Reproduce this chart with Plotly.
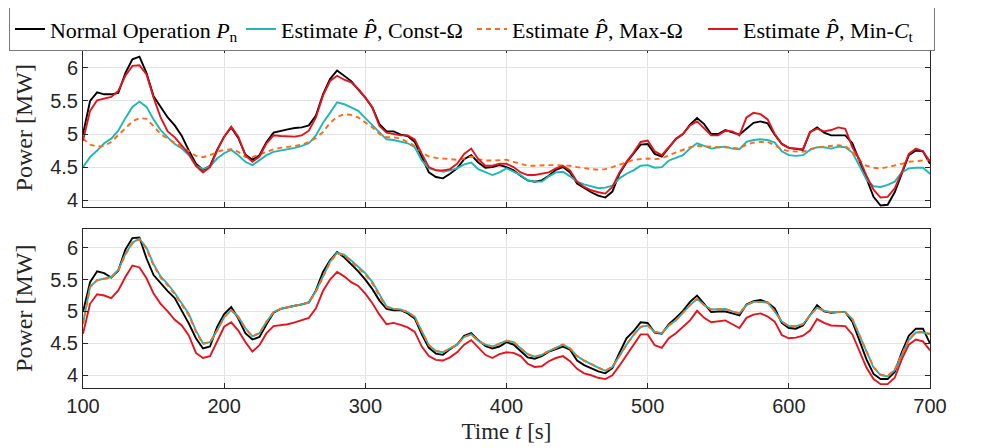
import plotly.graph_objects as go
from plotly.subplots import make_subplots

# sample times [s], every 5 s
time_s = list(range(100, 701, 5))

# top panel: power [MW]
top_normal = [5.00, 5.50, 5.63, 5.60, 5.60, 5.62, 5.92, 6.13, 6.17, 5.92, 5.57, 5.41, 5.25,
              5.13, 4.97, 4.75, 4.55, 4.46, 4.52, 4.76, 4.96, 5.10, 4.94, 4.69, 4.61, 4.68,
              4.88, 5.02, 5.05, 5.07, 5.09, 5.10, 5.13, 5.28, 5.60, 5.83, 5.96, 5.88, 5.80,
              5.67, 5.55, 5.40, 5.15, 5.04, 5.04, 4.99, 4.97, 4.88, 4.65, 4.42, 4.35, 4.33,
              4.40, 4.48, 4.62, 4.68, 4.57, 4.49, 4.50, 4.53, 4.50, 4.45, 4.37, 4.30, 4.28,
              4.30, 4.37, 4.46, 4.50, 4.42, 4.25, 4.18, 4.12, 4.07, 4.04, 4.13, 4.40, 4.57,
              4.70, 4.84, 4.85, 4.70, 4.66, 4.80, 4.93, 5.00, 5.14, 5.24, 5.15, 5.00, 5.00,
              5.06, 5.03, 4.99, 5.08, 5.17, 5.19, 5.16, 4.99, 4.85, 4.79, 4.78, 4.76, 5.03,
              5.10, 5.02, 4.98, 4.98, 4.98, 4.86, 4.60, 4.33, 4.05, 3.92, 3.93, 4.12, 4.40,
              4.68, 4.75, 4.74, 4.55]
top_const = [4.50, 4.65, 4.75, 4.86, 4.93, 5.05, 5.24, 5.41, 5.49, 5.41, 5.22, 5.06, 4.95,
             4.85, 4.78, 4.68, 4.52, 4.47, 4.51, 4.63, 4.71, 4.76, 4.68, 4.58, 4.53, 4.61,
             4.68, 4.73, 4.75, 4.76, 4.79, 4.82, 4.86, 4.98, 5.17, 5.32, 5.48, 5.45, 5.40,
             5.35, 5.24, 5.13, 5.02, 4.92, 4.91, 4.89, 4.86, 4.80, 4.60, 4.48, 4.45, 4.43,
             4.45, 4.48, 4.54, 4.57, 4.47, 4.42, 4.38, 4.42, 4.48, 4.43, 4.38, 4.30, 4.28,
             4.28, 4.36, 4.42, 4.43, 4.36, 4.28, 4.24, 4.21, 4.18, 4.19, 4.22, 4.33, 4.40,
             4.45, 4.52, 4.53, 4.49, 4.50, 4.60, 4.64, 4.68, 4.78, 4.86, 4.82, 4.78, 4.80,
             4.81, 4.78, 4.77, 4.88, 4.91, 4.92, 4.91, 4.87, 4.74, 4.68, 4.67, 4.68, 4.76,
             4.80, 4.80, 4.78, 4.81, 4.80, 4.72, 4.52, 4.31, 4.21, 4.20, 4.23, 4.28, 4.42,
             4.48, 4.49, 4.49, 4.40]
top_max = [4.93, 4.84, 4.81, 4.82, 4.88, 4.98, 5.08, 5.19, 5.24, 5.23, 5.12, 5.00, 4.93,
           4.87, 4.80, 4.74, 4.67, 4.65, 4.68, 4.73, 4.76, 4.77, 4.73, 4.65, 4.65, 4.69,
           4.74, 4.77, 4.79, 4.80, 4.82, 4.84, 4.88, 4.94, 5.03, 5.17, 5.26, 5.30, 5.29,
           5.25, 5.18, 5.10, 5.00, 4.95, 4.95, 4.93, 4.88, 4.82, 4.72, 4.66, 4.64, 4.63,
           4.62, 4.61, 4.63, 4.66, 4.62, 4.60, 4.60, 4.61, 4.61, 4.58, 4.55, 4.52, 4.52,
           4.53, 4.53, 4.53, 4.53, 4.52, 4.50, 4.48, 4.47, 4.46, 4.47, 4.50, 4.54, 4.58,
           4.61, 4.62, 4.63, 4.62, 4.63, 4.68, 4.72, 4.76, 4.80, 4.82, 4.81, 4.80, 4.80,
           4.80, 4.79, 4.78, 4.84, 4.87, 4.88, 4.88, 4.83, 4.77, 4.74, 4.73, 4.73, 4.77,
           4.80, 4.81, 4.82, 4.83, 4.82, 4.73, 4.60, 4.52, 4.49, 4.48, 4.50, 4.52, 4.55,
           4.58, 4.59, 4.60, 4.61]
top_minct = [4.90, 5.35, 5.51, 5.53, 5.56, 5.65, 5.88, 6.03, 6.04, 5.90, 5.55, 5.25, 5.04,
             4.95, 4.83, 4.70, 4.52, 4.42, 4.50, 4.75, 4.96, 5.11, 4.96, 4.68, 4.58, 4.66,
             4.86, 4.98, 4.97, 4.96, 4.96, 4.98, 5.05, 5.25, 5.58, 5.80, 5.88, 5.82, 5.78,
             5.68, 5.55, 5.40, 5.12, 5.02, 5.00, 4.98, 4.98, 4.92, 4.70, 4.50, 4.45, 4.45,
             4.47, 4.55, 4.70, 4.78, 4.62, 4.52, 4.52, 4.55, 4.55, 4.50, 4.42, 4.38, 4.38,
             4.40, 4.42, 4.48, 4.52, 4.45, 4.28, 4.20, 4.15, 4.12, 4.10, 4.20, 4.42, 4.58,
             4.72, 4.88, 4.90, 4.74, 4.68, 4.80, 4.92, 5.00, 5.13, 5.19, 5.08, 4.98, 4.98,
             5.05, 5.04, 4.98, 5.25, 5.32, 5.30, 5.22, 5.00, 4.85, 4.79, 4.78, 4.77, 5.03,
             5.08, 5.04, 5.06, 5.10, 5.08, 4.80, 4.62, 4.37, 4.16, 4.04, 4.05, 4.18, 4.42,
             4.70, 4.78, 4.74, 4.58]

# bottom panel: power [MW]
bot_normal = [4.99, 5.46, 5.63, 5.60, 5.53, 5.64, 5.97, 6.15, 6.16, 5.83, 5.57, 5.44, 5.32,
              5.21, 5.01, 4.81, 4.58, 4.42, 4.45, 4.76, 4.96, 5.07, 4.89, 4.66, 4.56, 4.60,
              4.80, 4.98, 5.04, 5.07, 5.09, 5.11, 5.14, 5.33, 5.62, 5.80, 5.93, 5.85, 5.74,
              5.63, 5.50, 5.35, 5.17, 5.04, 5.02, 5.02, 4.97, 4.89, 4.64, 4.43, 4.34, 4.32,
              4.41, 4.48, 4.62, 4.66, 4.55, 4.46, 4.42, 4.45, 4.52, 4.48, 4.38, 4.28, 4.26,
              4.30, 4.37, 4.41, 4.45, 4.40, 4.23, 4.16, 4.11, 4.06, 4.03, 4.11, 4.35, 4.58,
              4.69, 4.83, 4.82, 4.67, 4.65, 4.80, 4.90, 5.01, 5.15, 5.25, 5.12, 4.99, 5.00,
              5.00, 4.97, 4.94, 5.11, 5.16, 5.18, 5.14, 5.05, 4.82, 4.74, 4.73, 4.78, 4.95,
              5.10, 5.00, 4.98, 4.99, 4.99, 4.84, 4.55, 4.25, 4.02, 3.94, 3.94, 4.05, 4.36,
              4.62, 4.73, 4.73, 4.50]
bot_const = [4.81, 5.39, 5.49, 5.52, 5.54, 5.65, 5.90, 6.08, 6.14, 6.00, 5.74, 5.55, 5.43,
             5.29, 5.12, 4.96, 4.70, 4.50, 4.52, 4.70, 4.91, 5.02, 4.92, 4.74, 4.61, 4.66,
             4.84, 4.99, 5.04, 5.07, 5.09, 5.11, 5.14, 5.32, 5.55, 5.78, 5.92, 5.89, 5.80,
             5.70, 5.60, 5.46, 5.26, 5.08, 5.04, 5.03, 4.99, 4.92, 4.69, 4.47, 4.38, 4.36,
             4.42, 4.48, 4.60, 4.64, 4.54, 4.48, 4.45, 4.49, 4.54, 4.52, 4.42, 4.33, 4.29,
             4.32, 4.38, 4.43, 4.48, 4.42, 4.30, 4.23, 4.17, 4.12, 4.07, 4.13, 4.30, 4.48,
             4.63, 4.76, 4.78, 4.68, 4.66, 4.78, 4.86, 4.98, 5.10, 5.20, 5.10, 5.03, 5.04,
             5.04, 5.00, 4.97, 5.10, 5.15, 5.15, 5.14, 5.00, 4.84, 4.77, 4.77, 4.80, 4.94,
             5.06, 5.01, 4.99, 4.99, 4.99, 4.88, 4.62, 4.35, 4.12, 4.00, 3.98, 4.08, 4.32,
             4.55, 4.67, 4.67, 4.64]
bot_max = [4.80, 5.38, 5.49, 5.51, 5.53, 5.64, 5.89, 6.07, 6.13, 5.98, 5.72, 5.53, 5.41,
           5.27, 5.10, 4.94, 4.68, 4.49, 4.52, 4.70, 4.91, 5.02, 4.91, 4.73, 4.61, 4.66,
           4.84, 4.99, 5.04, 5.07, 5.09, 5.11, 5.14, 5.31, 5.54, 5.77, 5.91, 5.88, 5.78,
           5.68, 5.58, 5.44, 5.24, 5.07, 5.04, 5.03, 4.99, 4.91, 4.68, 4.47, 4.38, 4.36,
           4.42, 4.48, 4.60, 4.64, 4.54, 4.48, 4.45, 4.49, 4.54, 4.52, 4.42, 4.33, 4.29,
           4.32, 4.38, 4.43, 4.48, 4.42, 4.30, 4.23, 4.17, 4.12, 4.07, 4.13, 4.30, 4.48,
           4.63, 4.76, 4.78, 4.68, 4.66, 4.78, 4.86, 4.98, 5.10, 5.20, 5.10, 5.03, 5.04,
           5.04, 5.00, 4.97, 5.10, 5.15, 5.15, 5.14, 5.00, 4.84, 4.77, 4.77, 4.80, 4.94,
           5.06, 5.01, 4.99, 4.99, 4.99, 4.88, 4.63, 4.36, 4.13, 4.01, 3.99, 4.09, 4.33,
           4.56, 4.68, 4.68, 4.65]
bot_minct = [4.65, 5.12, 5.27, 5.25, 5.21, 5.33, 5.54, 5.72, 5.69, 5.52, 5.28, 5.12, 5.00,
             4.87, 4.78, 4.62, 4.35, 4.27, 4.30, 4.52, 4.76, 4.83, 4.70, 4.52, 4.37, 4.47,
             4.66, 4.77, 4.78, 4.80, 4.83, 4.86, 4.90, 5.05, 5.32, 5.50, 5.62, 5.55, 5.46,
             5.40, 5.28, 5.13, 4.95, 4.80, 4.82, 4.79, 4.75, 4.68, 4.45, 4.30, 4.24, 4.23,
             4.28, 4.36, 4.48, 4.55, 4.44, 4.32, 4.27, 4.33, 4.36, 4.35, 4.30, 4.18, 4.13,
             4.14, 4.22, 4.27, 4.30, 4.22, 4.10, 4.03, 4.00, 3.96, 3.94, 4.00, 4.15, 4.32,
             4.48, 4.64, 4.64, 4.47, 4.43, 4.58, 4.66, 4.76, 4.86, 5.01, 4.90, 4.83, 4.85,
             4.86, 4.80, 4.74, 4.90, 4.95, 4.97, 4.92, 4.84, 4.63, 4.58, 4.59, 4.62, 4.70,
             4.88, 4.82, 4.78, 4.78, 4.77, 4.64, 4.37, 4.12, 3.94, 3.86, 3.86, 3.96, 4.25,
             4.48, 4.56, 4.53, 4.39]

names = ["Normal Operation <i>P</i><sub>n</sub>",
         "Estimate <i>P\u0302</i>, Const-\u03a9",
         "Estimate <i>P\u0302</i>, Max-\u03a9",
         "Estimate <i>P\u0302</i>, Min-<i>C</i><sub>t</sub>"]
colors = ["#000000", "#1cb8b4", "#ff6a1a", "#e4141e"]
dashes = ["solid", "solid", "5px,4px", "solid"]

fig = make_subplots(rows=2, cols=1, shared_xaxes=True, vertical_spacing=0.062)

panels = [[top_normal, top_const, top_max, top_minct],
          [bot_normal, bot_const, bot_max, bot_minct]]
for row, series in enumerate(panels, start=1):
    for i, y in enumerate(series):
        fig.add_trace(go.Scatter(x=time_s, y=y, mode="lines", name=names[i],
                                 line=dict(color=colors[i], width=1.9, dash=dashes[i]),
                                 showlegend=(row == 1)), row=row, col=1)

serif = "Liberation Serif"
axis_style = dict(showline=True, linecolor="#262626", linewidth=1, mirror="ticks",
                  ticks="inside", ticklen=5, tickcolor="#262626",
                  showgrid=True, gridcolor="#e3e3e3", gridwidth=1, zeroline=False,
                  tickfont=dict(family="Liberation Sans", size=20, color="#262626"))

fig.update_xaxes(range=[100, 700], dtick=100, **axis_style)
fig.update_xaxes(showticklabels=False, row=1, col=1)
fig.update_xaxes(title=dict(text="Time <i>t</i> [s]", font=dict(family=serif, size=23, color="#262626"),
                            standoff=6), row=2, col=1)
fig.update_yaxes(tickvals=[4, 4.5, 5, 5.5, 6], ticktext=["4", "4.5", "5", "5.5", "6"], **axis_style)
fig.update_yaxes(range=[3.89, 6.3], row=1, col=1)
fig.update_yaxes(range=[3.8, 6.3], row=2, col=1)
fig.update_yaxes(title=dict(text="Power [MW]", font=dict(family=serif, size=24, color="#262626"),
                            standoff=10))

# the page puts the figure 8 px in from the top-left corner, margins allow for that
fig.update_layout(
    width=982, height=448,
    margin=dict(l=75, r=60, t=40, b=68, autoexpand=False),
    paper_bgcolor="white", plot_bgcolor="white",
    legend=dict(orientation="h", x=-0.0874, xanchor="left", y=1.12, yanchor="top",
                bordercolor="#7a7a7a", borderwidth=1, bgcolor="white",
                font=dict(family=serif, size=22, color="#000000"),
                entrywidth=186, entrywidthmode="pixels",
                itemwidth=30, tracegroupgap=0),
)

fig.write_html("out.html")
